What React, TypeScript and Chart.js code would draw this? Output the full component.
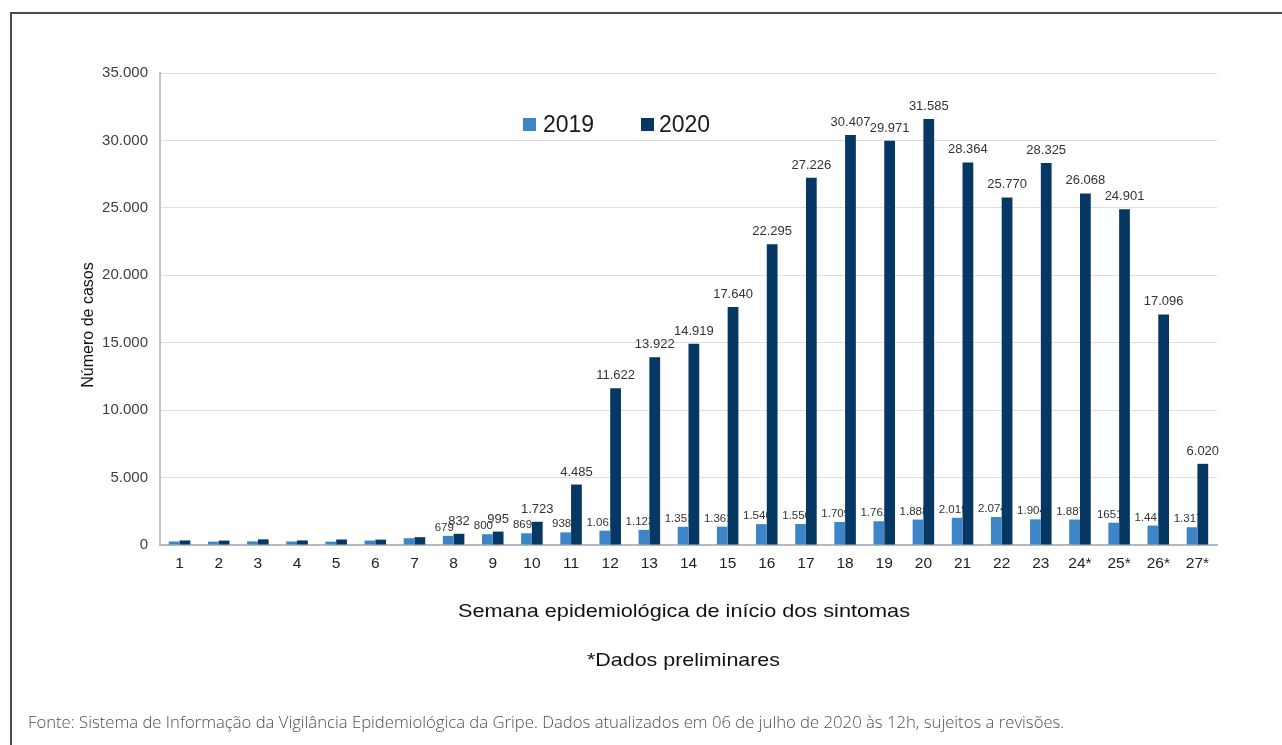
import React, { useEffect, useRef } from "react";
import { Chart, registerables } from "chart.js";

Chart.register(...registerables);

// ---------- DATA ----------
const weeks = [
  "1", "2", "3", "4", "5", "6", "7", "8", "9", "10", "11", "12", "13", "14",
  "15", "16", "17", "18", "19", "20", "21", "22", "23", "24*", "25*", "26*", "27*",
];

const cases2019 = [
  260, 250, 270, 260, 250, 330, 500, 679, 800, 869, 938, 1061, 1123, 1351,
  1361, 1546, 1556, 1709, 1761, 1888, 2019, 2074, 1904, 1887, 1651, 1441, 1317,
];

const cases2020 = [
  340, 330, 420, 340, 410, 400, 580, 832, 995, 1723, 4485, 11622, 13922, 14919,
  17640, 22295, 27226, 30407, 29971, 31585, 28364, 25770, 28325, 26068, 24901, 17096, 6020,
];

const labels2019: (string | null)[] = [
  null, null, null, null, null, null, null, "679", "800", "869", "938", "1.061", "1.123", "1.351",
  "1.361", "1.546", "1.556", "1.709", "1.761", "1.888", "2.019", "2.074", "1.904", "1.887", "1651", "1.441", "1.317",
];

const labels2020: (string | null)[] = [
  null, null, null, null, null, null, null, "832", "995", "1.723", "4.485", "11.622", "13.922", "14.919",
  "17.640", "22.295", "27.226", "30.407", "29.971", "31.585", "28.364", "25.770", "28.325", "26.068", "24.901", "17.096", "6.020",
];

const seriesNames = ["2019", "2020"];
const seriesColors = ["#3d85c6", "#073763"];

const yMin = 0;
const yMax = 35000;
const yStep = 5000;

const yTitle = "Número de casos";
const xTitle = "Semana epidemiológica de início dos sintomas";
const note = "*Dados preliminares";
const source =
  "Fonte: Sistema de Informação da Vigilância Epidemiológica da Gripe. Dados atualizados em 06 de julho de 2020 às 12h, sujeitos a revisões.";

// ---------- HELPERS ----------
const FONT = '"Liberation Sans", Arial, Helvetica, sans-serif';

function fmtThousands(v: number): string {
  return Math.round(v)
    .toString()
    .replace(/\B(?=(\d{3})+(?!\d))/g, ".");
}

function drawFitted(
  ctx: CanvasRenderingContext2D,
  text: string,
  cx: number,
  baseline: number,
  font: string,
  color: string,
  targetWidth?: number
) {
  ctx.save();
  ctx.font = font;
  ctx.fillStyle = color;
  ctx.textAlign = "center";
  ctx.textBaseline = "alphabetic";
  const w = ctx.measureText(text).width;
  const sx = targetWidth ? targetWidth / w : 1;
  ctx.translate(cx, baseline);
  ctx.scale(sx, 1);
  ctx.fillText(text, 0, 0);
  ctx.restore();
}

const annotationPlugin = {
  id: "annotations",
  beforeDatasetsDraw(chart: any) {
    const ctx: CanvasRenderingContext2D = chart.ctx;
    const meta = chart.getDatasetMeta(0);
    ctx.save();
    ctx.font = `11.5px ${FONT}`;
    ctx.fillStyle = "#333333";
    ctx.textAlign = "center";
    ctx.textBaseline = "alphabetic";
    meta.data.forEach((bar: any, i: number) => {
      const t = labels2019[i];
      if (!t) return;
      ctx.fillText(t, bar.x - 4, bar.y - 5);
    });
    ctx.restore();
  },
  afterDatasetsDraw(chart: any) {
    const ctx: CanvasRenderingContext2D = chart.ctx;
    const meta = chart.getDatasetMeta(1);
    ctx.save();
    ctx.font = `13px ${FONT}`;
    ctx.fillStyle = "#333333";
    ctx.textAlign = "center";
    ctx.textBaseline = "alphabetic";
    meta.data.forEach((bar: any, i: number) => {
      const t = labels2020[i];
      if (!t) return;
      ctx.fillText(t, bar.x, bar.y - 9);
    });
    ctx.restore();
  },
  afterDraw(chart: any) {
    const ctx: CanvasRenderingContext2D = chart.ctx;

    // legend (inside plot area)
    const legendItems = [
      { sq: 523, tx: 543 },
      { sq: 641, tx: 659 },
    ];
    ctx.save();
    legendItems.forEach((it, i) => {
      ctx.fillStyle = seriesColors[i];
      ctx.fillRect(it.sq, 118, 13, 13);
      ctx.font = `23px ${FONT}`;
      ctx.fillStyle = "#1a1a1a";
      ctx.textAlign = "left";
      ctx.textBaseline = "alphabetic";
      ctx.fillText(seriesNames[i], it.tx, 131.5);
    });
    ctx.restore();

    // y axis title
    ctx.save();
    ctx.translate(93, 325);
    ctx.rotate(-Math.PI / 2);
    ctx.font = `16px ${FONT}`;
    ctx.fillStyle = "#111111";
    ctx.textAlign = "center";
    ctx.textBaseline = "alphabetic";
    ctx.fillText(yTitle, 0, 0);
    ctx.restore();

    // x axis title and note
    drawFitted(ctx, xTitle, 684, 616.5, `19px ${FONT}`, "#111111", 452);
    drawFitted(ctx, note, 683.5, 666, `18.5px ${FONT}`, "#111111", 193);
  },
};

export default function App() {
  const canvasRef = useRef<HTMLCanvasElement | null>(null);

  useEffect(() => {
    if (!canvasRef.current) return;
    const chart = new Chart(canvasRef.current, {
      type: "bar",
      data: {
        labels: weeks,
        datasets: [
          {
            label: seriesNames[0],
            data: cases2019,
            backgroundColor: seriesColors[0],
            borderWidth: 0,
            categoryPercentage: 0.55,
            barPercentage: 1,
          },
          {
            label: seriesNames[1],
            data: cases2020,
            backgroundColor: seriesColors[1],
            borderWidth: 0,
            categoryPercentage: 0.55,
            barPercentage: 1,
          },
        ],
      },
      options: {
        responsive: false,
        maintainAspectRatio: false,
        animation: false,
        layout: { padding: { left: 100, right: 65, top: 73, bottom: 170 } },
        plugins: {
          legend: { display: false },
          tooltip: { enabled: false },
          title: { display: false },
        },
        scales: {
          x: {
            grid: { display: false, drawTicks: false },
            border: { display: true, color: "#b8b8b8", width: 2 },
            ticks: {
              font: { family: FONT, size: 15.5 },
              color: "#222222",
              padding: 9,
              maxRotation: 0,
              autoSkip: false,
            },
            afterFit: (s: any) => {
              s.height = 30;
            },
          },
          y: {
            min: yMin,
            max: yMax,
            grid: { color: "#dedede", lineWidth: 1, drawTicks: false },
            border: { display: true, color: "#c4c4c4", width: 2 },
            ticks: {
              stepSize: yStep,
              font: { family: FONT, size: 15 },
              color: "#404040",
              padding: 12,
              callback: (v: any) => fmtThousands(Number(v)),
            },
            afterFit: (s: any) => {
              s.width = 60;
            },
          },
        },
      } as any,
      plugins: [annotationPlugin],
    });
    return () => chart.destroy();
  }, []);

  return (
    <div
      style={{
        position: "absolute",
        left: 0,
        top: 0,
        width: 1282,
        height: 745,
        overflow: "hidden",
        background: "#ffffff",
      }}
    >
      <canvas
        ref={canvasRef}
        width={1282}
        height={745}
        style={{ position: "absolute", left: 0, top: 0, width: 1282, height: 745 }}
      />
      <div
        style={{
          position: "absolute",
          left: 10,
          top: 12,
          width: 1300,
          height: 760,
          borderTop: "2px solid #4a4a4a",
          borderLeft: "2px solid #4a4a4a",
          pointerEvents: "none",
        }}
      />
      <div
        style={{
          position: "absolute",
          left: 28,
          top: 710,
          fontFamily: '"Open Sans", "Noto Sans", sans-serif',
          fontWeight: 300,
          fontSize: 16.7,
          color: "#505050",
          whiteSpace: "nowrap",
        }}
      >
        {source}
      </div>
    </div>
  );
}
